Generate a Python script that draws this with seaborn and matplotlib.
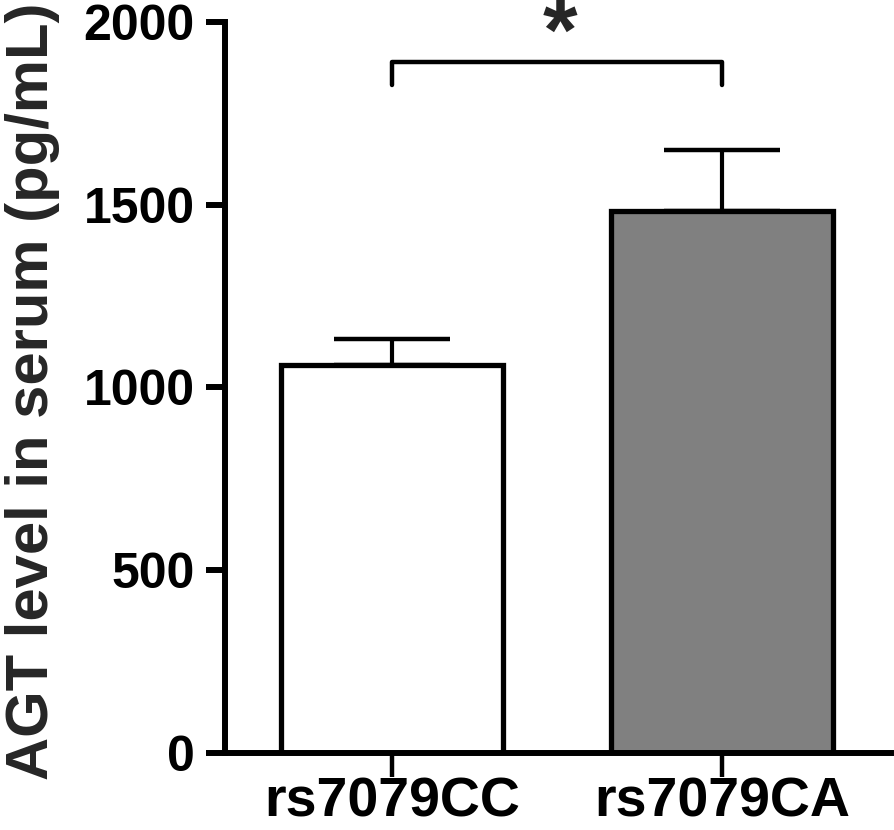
import matplotlib
matplotlib.use("Agg")
import matplotlib.pyplot as plt
import seaborn as sns
import pandas as pd

categories = ["rs7079CC", "rs7079CA"]
means = [1062, 1483]
sems = [72, 167]
bar_colors = ["#ffffff", "#808080"]
yticks = [0, 500, 1000, 1500, 2000]
bracket_y = 1890
bracket_tip = 1828
sig_label = "*"

sns.set_theme(style="ticks")
plt.rcParams["font.family"] = ["Liberation Sans", "DejaVu Sans"]
plt.rcParams["font.weight"] = "bold"

fig = plt.figure(figsize=(8.94, 8.30), dpi=100)
ax = fig.add_axes([0.2517, 0.0928, 0.9966 - 0.2517, 0.9735 - 0.0928])

df = pd.DataFrame({"group": categories, "value": means})
sns.barplot(data=df, x="group", y="value", hue="group", palette=bar_colors,
            order=categories, hue_order=categories, legend=False,
            width=0.67, edgecolor="black", linewidth=3.8, ax=ax, errorbar=None)

ax.errorbar(range(len(categories)), means, yerr=[[0] * len(sems), sems],
            fmt="none", ecolor="black", elinewidth=3.0, capsize=42,
            capthick=3.2, zorder=1)

# significance bracket
ax.plot([0, 0, 1, 1], [bracket_tip, bracket_y, bracket_y, bracket_tip],
        color="black", lw=3.2, solid_capstyle="round", solid_joinstyle="round",
        clip_on=False)
ax.text(0.51, 1896, sig_label, ha="center", va="baseline", fontsize=64,
        fontweight="bold", clip_on=False)

ax.set_xlim(-0.506, 1.512)
ax.set_ylim(0, 2000)
ax.set_yticks(yticks)
ax.set_yticklabels([str(v) for v in yticks])
ax.set_xlabel("")
ax.set_ylabel("AGT level in serum (pg/mL)", fontsize=43, fontweight="bold")
ax.yaxis.set_label_coords(-0.248, 0.495)

for s in ["top", "right"]:
    ax.spines[s].set_visible(False)
for s in ["left", "bottom"]:
    ax.spines[s].set_linewidth(4.3)
    ax.spines[s].set_color("black")

ax.tick_params(axis="y", direction="out", length=14, width=4.3, labelsize=36,
               pad=8, colors="black")
ax.tick_params(axis="x", direction="out", length=17, width=3.2, labelsize=40,
               pad=0, colors="black")
for lab in ax.get_xticklabels() + ax.get_yticklabels():
    lab.set_fontweight("bold")

fig.savefig("out.png", dpi=100)
